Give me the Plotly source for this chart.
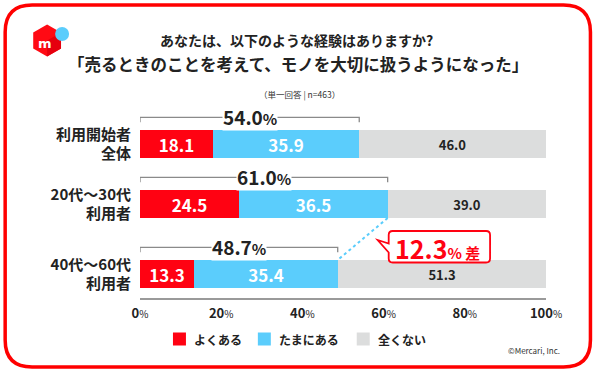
import plotly.graph_objects as go

# ---------------- data ----------------
categories = ["利用開始者<br>全体", "20代～30代<br>利用者", "40代～60代<br>利用者"]
series_names = ["よくある", "たまにある", "全くない"]
often = [18.1, 24.5, 13.3]
sometimes = [35.9, 36.5, 35.4]
never = [46.0, 39.0, 51.3]
x_ticks = [0, 20, 40, 60, 80, 100]

# ---------------- layout constants ----------------
W, H = 600, 374
L, R, T, B = 140, 546.5, 100, 298        # plot area in pixels
row_pos = [0, 1, 2.1667]                  # layout positions of rows
PX_PER_UNIT = 60.0
y_top = (T - 144) / PX_PER_UNIT
y_bot = (B - 144) / PX_PER_UNIT
bar_w = 28 / PX_PER_UNIT

RED = "#FF0212"
BLUE = "#5BCDFC"
GRAY = "#DCDDDD"
FONT = "Noto Sans CJK JP"
INK = "#222222"


def px(xp):
    return (xp - L) / (R - L)


def py(yp):
    return (B - yp) / (B - T)


def note(xp, yp, text, size, color=INK, xanchor="center", family=FONT):
    return dict(x=px(xp), y=py(yp), xref="paper", yref="paper", showarrow=False,
                xanchor=xanchor, yanchor="middle", text=text,
                font=dict(size=size, color=color, family=family))


fig = go.Figure()
series = [often, sometimes, never]
colors = [RED, BLUE, GRAY]
txt_colors = ["white", "white", INK]
txt_sizes = [17, 17, 13]
for name, vals, c, tc, ts in zip(series_names, series, colors, txt_colors, txt_sizes):
    fig.add_trace(go.Bar(
        y=row_pos, x=vals, name=name, orientation="h",
        marker=dict(color=c, line=dict(width=0)),
        width=bar_w,
        text=[f"<b>{v:.1f}</b>" for v in vals],
        textposition="inside", insidetextanchor="middle",
        textfont=dict(color=tc, size=ts, family=FONT),
        constraintext="none",
        hoverinfo="skip", showlegend=False,
    ))

shapes = []
annotations = []

# brackets with totals
totals = [a + b for a, b in zip(often, sometimes)]
for yp, tot in zip(row_pos, totals):
    yb = yp - 0.445
    tick = 5 / PX_PER_UNIT
    shapes.append(dict(type="path", xref="x", yref="y",
                       path=f"M 0,{yb + tick} L 0,{yb} L {tot},{yb} L {tot},{yb + tick}",
                       line=dict(color="#8a8a8a", width=1.3)))
    annotations.append(dict(
        x=tot / 2, y=yb, xref="x", yref="y", showarrow=False,
        xanchor="center", yanchor="middle",
        text=f"<b>{tot:.1f}</b><span style='font-size:15px'><b>%</b></span>",
        font=dict(size=19, color=INK, family=FONT),
        bgcolor="white", borderpad=0, yshift=1))

# dotted connector between row 2 and row 3 totals
shapes.append(dict(type="line", xref="x", yref="y",
                   x0=totals[1], y0=row_pos[1] + bar_w / 2,
                   x1=totals[2], y1=row_pos[2] - bar_w / 2,
                   line=dict(color=BLUE, width=2, dash="dot")))

# callout box with tail
bl, br, bt, bb, r = 389, 490.5, 231, 262.5, 4
path = (f"M {px(bl + r)},{py(bt)} L {px(br - r)},{py(bt)} "
        f"Q {px(br)},{py(bt)} {px(br)},{py(bt + r)} "
        f"L {px(br)},{py(bb - r)} Q {px(br)},{py(bb)} {px(br - r)},{py(bb)} "
        f"L {px(bl + r)},{py(bb)} Q {px(bl)},{py(bb)} {px(bl)},{py(bb - r)} "
        f"L {px(bl)},{py(252.5)} L {px(378)},{py(240)} L {px(bl)},{py(243.5)} "
        f"L {px(bl)},{py(bt + r)} Q {px(bl)},{py(bt)} {px(bl + r)},{py(bt)} Z")
shapes.append(dict(type="path", xref="paper", yref="paper", path=path,
                   line=dict(color=RED, width=1.8), fillcolor="white"))
diff = totals[1] - totals[2]
annotations.append(note(
    438, 247.5,
    (f"<b>{diff:.1f}</b><span style='font-size:15px'><b>%</b></span>"
     f"<span style='font-size:15px'><b> 差</b></span>"),
    25, color=RED))

# outer rounded border
ol, orr, ot, ob, rr = 5, 591, 5, 367, 27
border = (f"M {px(ol + rr)},{py(ot)} L {px(orr - rr)},{py(ot)} "
          f"Q {px(orr)},{py(ot)} {px(orr)},{py(ot + rr)} "
          f"L {px(orr)},{py(ob - rr)} Q {px(orr)},{py(ob)} {px(orr - rr)},{py(ob)} "
          f"L {px(ol + rr)},{py(ob)} Q {px(ol)},{py(ob)} {px(ol)},{py(ob - rr)} "
          f"L {px(ol)},{py(ot + rr)} Q {px(ol)},{py(ot)} {px(ol + rr)},{py(ot)} Z")
shapes.append(dict(type="path", xref="paper", yref="paper", path=border,
                   line=dict(color="#FF0000", width=3.5), layer="below"))

# logo (cube + dot)
cx, cy, s = 47, 40.5, 16
hexa = [(cx, cy - s), (cx + s * 0.87, cy - s / 2), (cx + s * 0.87, cy + s / 2),
        (cx, cy + s), (cx - s * 0.87, cy + s / 2), (cx - s * 0.87, cy - s / 2)]
hp = "M " + " L ".join(f"{px(a)},{py(b)}" for a, b in hexa) + " Z"
shapes.append(dict(type="path", xref="paper", yref="paper", path=hp,
                   fillcolor="#FF0A14", line=dict(width=0)))
rf = [(cx, cy), (cx + s * 0.87, cy - s / 2), (cx + s * 0.87, cy + s / 2), (cx, cy + s)]
rp = "M " + " L ".join(f"{px(a)},{py(b)}" for a, b in rf) + " Z"
shapes.append(dict(type="path", xref="paper", yref="paper", path=rp,
                   fillcolor="#E6000E", line=dict(width=0)))
shapes.append(dict(type="circle", xref="paper", yref="paper",
                   x0=px(55), x1=px(69), y0=py(27), y1=py(41),
                   fillcolor=BLUE, line=dict(width=0)))
annotations.append(note(44.5, 43, "<b>m</b>", 13, color="white", family="DejaVu Sans"))

# manual legend
leg_sq_x = [173, 258, 357]
for name, c, sx in zip(series_names, colors, leg_sq_x):
    shapes.append(dict(type="rect", xref="paper", yref="paper",
                       x0=px(sx), x1=px(sx + 13), y0=py(332.5), y1=py(345.5),
                       fillcolor=c, line=dict(width=0)))
    annotations.append(note(sx + 19, 339, f"<b>{name}</b>", 12, xanchor="left"))

# titles
annotations += [
    note(297, 40, "<b>あなたは、以下のような経験はありますか?</b>", 14),
    note(298, 63.5, "<b>「売るときのことを考えて、モノを大切に扱うようになった」</b>", 16.5),
    note(300, 94, "（単一回答 | n=463）", 8.5, color="#333333"),
    note(563, 350, "©Mercari, Inc.", 8, color="#333333", xanchor="right"),
]

fig.update_layout(
    width=W, height=H,
    margin=dict(l=L, r=W - R, t=T, b=H - B, pad=0, autoexpand=False),
    barmode="stack", bargap=0,
    plot_bgcolor="white", paper_bgcolor="white",
    font=dict(family=FONT, color=INK),
    shapes=shapes, annotations=annotations,
    showlegend=False,
    xaxis=dict(range=[0, 100], tickvals=x_ticks,
               ticktext=[f"<b>{v}</b><span style='font-size:10px'>%</span>" for v in x_ticks],
               tickfont=dict(size=13, color=INK, family=FONT),
               showgrid=False, zeroline=False, showline=True,
               linecolor="#9a9a9a", linewidth=2, ticks="", fixedrange=True,
               automargin=False, ticklabelstandoff=2),
    yaxis=dict(range=[y_bot, y_top], tickvals=row_pos,
               ticktext=[f"<b>{c}</b>" for c in categories],
               tickfont=dict(size=15, color=INK, family=FONT),
               showgrid=False, zeroline=False, showline=False, ticks="",
               ticklabelstandoff=8, fixedrange=True, automargin=False),
)

fig.write_html("out.html", config={"displayModeBar": False},
               post_script="document.body.style.margin='0px';")
